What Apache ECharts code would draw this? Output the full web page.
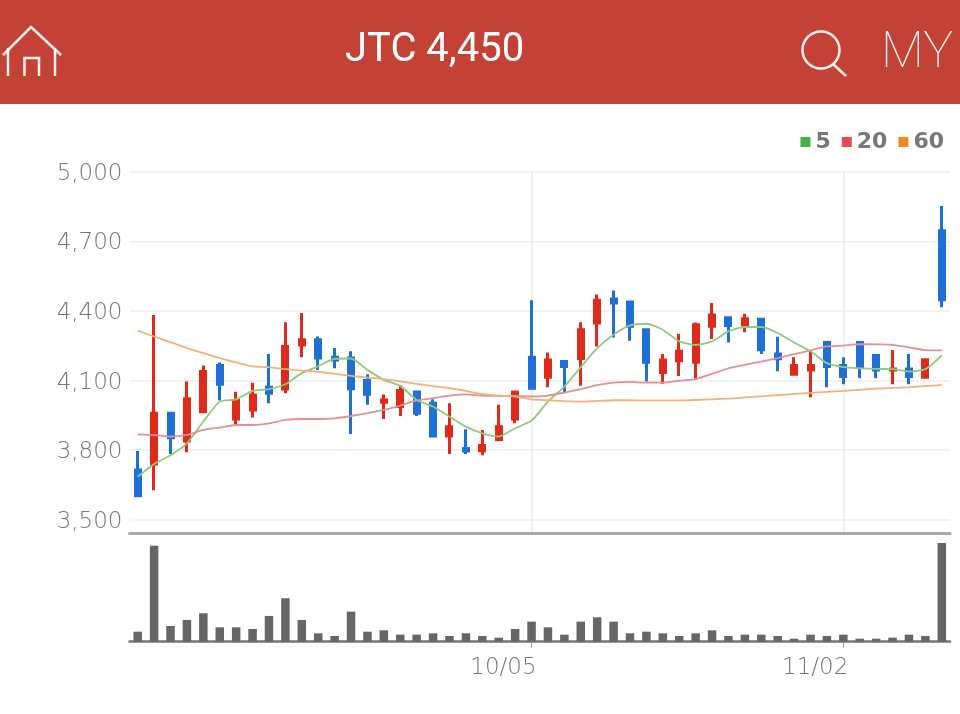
<!DOCTYPE html>
<html lang="ko">
<head>
<meta charset="UTF-8">
<title>JTC 4,450</title>
<style>
  html, body { margin: 0; padding: 0; background: #fff; }
  #main { width: 960px; height: 714px; }
</style>
</head>
<body>
<div id="main"></div>
<script src="https://cdn.jsdelivr.net/npm/echarts@6/dist/echarts.min.js"></script>
<script>
var categories = ['08/28','08/31','09/01','09/02','09/03','09/04','09/07','09/08','09/09','09/10',
  '09/11','09/14','09/15','09/16','09/17','09/18','09/21','09/22','09/23','09/24',
  '09/25','09/30','10/01','10/02','10/05','10/06','10/07','10/08','10/12','10/13',
  '10/14','10/15','10/16','10/19','10/20','10/21','10/22','10/23','10/26','10/27',
  '10/28','10/29','10/30','11/02','11/03','11/04','11/05','11/06','11/09','11/10'];

var opens = [3714,3740,3959,3839,3965,4165,3934,3973,4071,4064,
  4253,4276,4201,4197,4100,4006,3988,4050,4002,3861,
  3807,3797,3846,3934,4201,4114,4182,4195,4348,4452,
  4439,4319,4135,4185,4179,4334,4371,4341,4365,4215,
  4127,4146,4264,4165,4264,4208,4146,4150,4114,4746];
var closes = [3603,3959,3853,4021,4139,4084,4014,4038,4045,4247,
  4276,4197,4189,4065,4041,4016,4057,3959,3861,3901,
  3796,3820,3901,4051,4067,4189,4161,4319,4446,4435,
  4334,4179,4189,4226,4341,4383,4337,4367,4233,4194,
  4165,4165,4161,4117,4161,4146,4150,4117,4190,4449];
var lows = [3603,3627,3783,3790,3965,4014,3905,3941,4002,4045,
  4201,4146,4153,3869,3995,3934,3947,3947,3861,3783,
  3783,3778,3846,3916,4067,4071,4045,4077,4247,4286,
  4272,4096,4086,4120,4103,4279,4264,4308,4215,4140,
  4122,4028,4071,4084,4110,4110,4084,4084,4110,4416];
var highs = [3796,4383,3959,4096,4165,4178,4052,4090,4214,4352,
  4391,4290,4240,4226,4127,4040,4080,4057,4019,4002,
  3890,3887,3995,4051,4446,4221,4182,4352,4471,4489,
  4439,4319,4215,4302,4351,4435,4377,4388,4365,4289,
  4201,4227,4264,4201,4264,4208,4232,4214,4194,4853];

var ma5 = [3685,3740,3778,3829,3923,4009,4019,4055,4063,4084,
  4132,4161,4194,4195,4146,4103,4077,4016,3988,3944,
  3901,3872,3858,3894,3927,4009,4074,4158,4240,4298,
  4338,4345,4319,4269,4254,4269,4312,4331,4331,4305,
  4264,4226,4175,4158,4153,4150,4149,4139,4149,4208];
var ma20 = [3868,3865,3858,3865,3887,3897,3908,3908,3915,3930,
  3934,3934,3937,3947,3959,3973,3992,4014,4024,4035,
  4040,4035,4034,4034,4031,4035,4048,4063,4080,4091,
  4094,4091,4091,4099,4106,4129,4153,4168,4182,4197,
  4214,4230,4247,4251,4257,4256,4254,4243,4231,4230];
var ma60 = [4315,4290,4266,4240,4218,4197,4178,4161,4158,4149,
  4143,4138,4129,4120,4113,4106,4096,4086,4076,4067,
  4055,4041,4035,4031,4019,4015,4011,4009,4012,4015,
  4015,4014,4014,4014,4016,4019,4022,4027,4032,4037,
  4042,4047,4051,4055,4060,4065,4068,4071,4076,4081];

var volumes = [30,287,47,65,85,43,43,38,77,130,
  65,25,17,90,30,34,21,21,25,17,
  25,17,12,38,60,43,21,60,73,60,
  25,30,25,17,25,34,17,21,21,17,
  9,21,17,21,9,9,12,21,17,295];

var priceTicks = [3500,3800,4100,4400,4700,5000];
var markedDates = ['10/05','11/02'];

var candleData = categories.map(function (d, i) {
  return [opens[i], closes[i], lows[i], highs[i]];
});

function isMarked(i) {
  return markedDates.indexOf(categories[i]) >= 0;
}

var chart = echarts.init(document.getElementById('main'));

var white = '#fdf3f1';

chart.setOption({
  animation: false,
  backgroundColor: '#fff',
  title: {
    text: 'JTC 4,450',
    left: 340,
    top: 26,
    textStyle: { color: '#fff', fontFamily: 'Roboto', fontSize: 40, fontWeight: 400 }
  },
  legend: {
    data: ['5', '20', '60'],
    right: 11,
    top: 126,
    icon: 'rect',
    itemWidth: 10,
    itemHeight: 10,
    itemGap: 11,
    textStyle: { color: '#777', fontFamily: 'DejaVu Sans', fontWeight: 'bold', fontSize: 22 }
  },
  graphic: [
    { type: 'rect', z: -1, shape: { x: 0, y: 0, width: 960, height: 104 }, style: { fill: '#c44235' } },
    // home icon
    { type: 'polyline', shape: { points: [[3, 55], [31, 27], [61, 55]] }, style: { stroke: white, lineWidth: 2.5, fill: null } },
    { type: 'polyline', shape: { points: [[8, 48], [8, 76]] }, style: { stroke: white, lineWidth: 2.5, fill: null } },
    { type: 'polyline', shape: { points: [[55, 48], [55, 76]] }, style: { stroke: white, lineWidth: 2.5, fill: null } },
    { type: 'polyline', shape: { points: [[24.5, 76], [24.5, 58], [39, 58], [39, 76]] }, style: { stroke: white, lineWidth: 2.5, fill: null } },
    // search icon
    { type: 'circle', shape: { cx: 821, cy: 50, r: 18.5 }, style: { stroke: white, lineWidth: 2.5, fill: null } },
    { type: 'line', shape: { x1: 833, y1: 64, x2: 846, y2: 76 }, style: { stroke: white, lineWidth: 2.5 } },
    {
      type: 'text', x: 881, y: 54,
      style: { text: 'MY', fill: '#fff', font: '100 50px Roboto', textVerticalAlign: 'middle' }
    }
  ],
  grid: [
    { left: 129.5, right: 10, top: 172, height: 361 },
    { left: 129.5, right: 10, top: 533, height: 108.7 }
  ],
  xAxis: [
    {
      type: 'category',
      gridIndex: 0,
      data: categories,
      boundaryGap: true,
      axisLine: { lineStyle: { color: '#aaa', width: 3 } },
      axisTick: { show: false, alignWithLabel: true },
      axisLabel: { show: false },
      splitLine: {
        show: true,
        alignWithLabel: true,
        interval: function (i) { return isMarked(i); },
        lineStyle: { color: '#eaeaea', width: 1.5 }
      }
    },
    {
      type: 'category',
      gridIndex: 1,
      data: categories,
      boundaryGap: true,
      axisLine: { lineStyle: { color: '#777', width: 2.5 } },
      axisTick: {
        show: true,
        alignWithLabel: true,
        length: 6,
        interval: function (i) { return isMarked(i); },
        lineStyle: { color: '#999' }
      },
      axisLabel: {
        interval: function (i) { return isMarked(i); },
        align: 'right',
        margin: 15,
        padding: [0, -5, 0, 0],
        color: '#777',
        fontFamily: 'DejaVu Sans',
        fontWeight: 200,
        fontSize: 23
      },
      splitLine: { show: false }
    }
  ],
  yAxis: [
    {
      type: 'value',
      gridIndex: 0,
      min: 3442,
      max: 5000,
      axisLine: { show: false },
      axisTick: { show: false, customValues: priceTicks },
      axisLabel: {
        customValues: priceTicks,
        margin: 7,
        formatter: function (v) { return '{p|' + v.toLocaleString('en-US') + '}'; },
        rich: {
          p: {
            color: '#777',
            fontFamily: 'DejaVu Sans',
            fontWeight: 200,
            fontSize: 23,
            padding: [4, 0, 0, 0]
          }
        }
      },
      splitLine: { show: true, lineStyle: { color: '#eeeeee', width: 1.5 } }
    },
    {
      type: 'value',
      gridIndex: 1,
      min: 0,
      max: 325,
      axisLine: { show: false },
      axisTick: { show: false },
      axisLabel: { show: false },
      splitLine: { show: false }
    }
  ],
  series: [
    {
      name: '5', type: 'line', data: ma5, smooth: 0.2, showSymbol: false,
      itemStyle: { color: '#45b045' },
      lineStyle: { color: '#8ecb7c', width: 1.8 }
    },
    {
      name: '20', type: 'line', data: ma20, smooth: 0.2, showSymbol: false,
      itemStyle: { color: '#e84a4f' },
      lineStyle: { color: '#e39096', width: 1.8 }
    },
    {
      name: '60', type: 'line', data: ma60, smooth: 0.2, showSymbol: false,
      itemStyle: { color: '#ee8a1d' },
      lineStyle: { color: '#f0b278', width: 1.8 }
    },
    {
      name: 'price', type: 'candlestick', data: candleData, barWidth: 5.5,
      itemStyle: {
        color: '#dd2a1b', color0: '#1f6fd6',
        borderColor: '#dd2a1b', borderColor0: '#1f6fd6',
        borderWidth: 3
      }
    },
    {
      name: 'volume', type: 'bar', xAxisIndex: 1, yAxisIndex: 1, data: volumes, barWidth: 8.5,
      itemStyle: { color: '#666' }
    }
  ]
});
</script>
</body>
</html>
